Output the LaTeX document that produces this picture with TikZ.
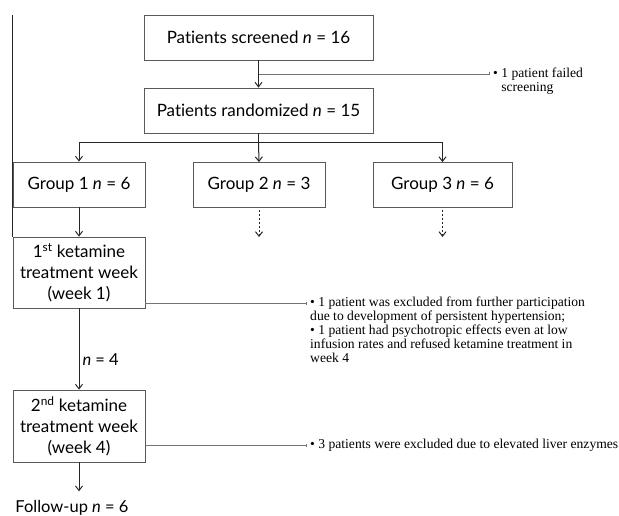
\documentclass[tikz,border=0pt]{standalone}
\usepackage{fontspec}
\setmainfont{Lato}[Ligatures={NoCommon}]
\newfontfamily\notefont{Liberation Serif}
\usetikzlibrary{arrows.meta}
\begin{document}
\begin{tikzpicture}[x=1pt,y=-1pt,
  box/.style={draw=black!65, line width=0.8pt, inner sep=0pt, font=\fontsize{17}{21}\selectfont, align=center},
  plain/.style={draw=black!85, line width=1pt},
  arr/.style={plain, -{Straight Barb[length=4.5pt,width=7pt,line width=1pt]}},
  darr/.style={arr, dash pattern=on 2pt off 2pt},
  side/.style={draw=black!55, line width=0.7pt, -{Bar[width=3pt,line width=0.6pt]}},
  note/.style={font=\notefont\fontsize{13.6}{14}\selectfont, align=left, inner sep=0pt, anchor=north west},
]
\useasboundingbox (0,0) rectangle (619,516);

\node[box, minimum width=229pt, minimum height=45pt] (scr) at (258.5,37.5) {Patients screened \textit{n} = 16};
\node[box, minimum width=229pt, minimum height=45pt] (ran) at (258.5,110.5) {Patients randomized \textit{n} = 15};
\node[box, minimum width=132pt, minimum height=45pt] (g1) at (79,184.5) {Group 1 \textit{n} = 6};
\node[box, minimum width=132pt, minimum height=45pt] (g2) at (259,185) {Group 2 \textit{n} = 3};
\node[box, minimum width=139pt, minimum height=45pt] (g3) at (442.5,185) {Group 3 \textit{n} = 6};
\node[box, minimum width=132pt, minimum height=71pt] (k1) at (79,272.5) {1\textsuperscript{st} ketamine\\treatment week\\(week 1)};
\node[box, minimum width=132pt, minimum height=72pt] (k2) at (79,426) {2\textsuperscript{nd} ketamine\\treatment week\\(week 4)};
\node[font=\fontsize{16.5}{18}\selectfont, inner sep=0pt] (fu) at (72,508) {Follow-up \textit{n} = 6};

% left rule
\draw[plain] (k1.north west) -- (k1.north west |- scr.north);

% screened -> randomized with exclusion
\draw[arr] (scr.south) -- (ran.north);
\coordinate (c1) at (490,74);
\draw[side] (scr.south |- c1) -- (c1);
\node[note] (n1) at (493,68) {\textbullet\ 1 patient failed\\\hphantom{\textbullet\ }screening};

% branching
\coordinate (br) at (258.5,143);
\draw[plain] (ran.south) -- (br);
\draw[plain] (g1.north |- br) -- (g3.north |- br);
\draw[arr] (g1.north |- br) -- (g1.north);
\draw[arr] (br) -- (g2.north);
\draw[arr] (g3.north |- br) -- (g3.north);

% dotted continuations
\coordinate (d2) at (259,237);
\coordinate (d3) at (442.5,237);
\draw[darr, shorten <=2pt] (g2.south) -- (d2);
\draw[darr, shorten <=2pt] (g3.south) -- (d3);

% group 1 chain
\draw[arr] (g1.south) -- (k1.north);
\draw[arr] (k1.south) -- (k2.north) node[pos=0.63, right, inner sep=3pt, font=\fontsize{16.5}{18}\selectfont] {\textit{n} = 4};
\draw[arr, shorten >=9pt] (k2.south) -- (k2.south |- fu.north);

% side exclusions
\coordinate (c2) at (307,303);
\draw[side] (k1.east |- c2) -- (c2);
\node[note] (n2) at (310,297) {\textbullet\ 1 patient was excluded from further participation\\due to development of persistent hypertension;\\\textbullet\ 1 patient had psychotropic effects even at low\\infusion rates and refused ketamine treatment in\\week 4};
\coordinate (c3) at (307,445);
\draw[side] (k2.east |- c3) -- (c3);
\node[note] (n3) at (310,439) {\textbullet\ 3 patients were excluded due to elevated liver enzymes};
\end{tikzpicture}
\end{document}
